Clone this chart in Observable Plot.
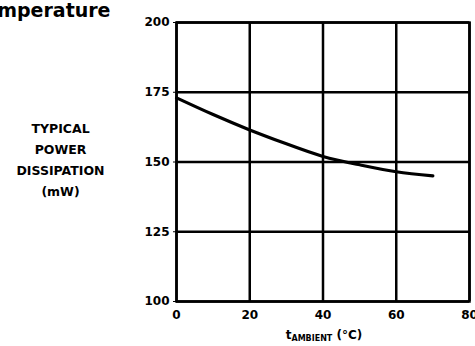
<!DOCTYPE html>
<html>
<head>
<meta charset="utf-8">
<script src="https://cdn.jsdelivr.net/npm/d3@7"></script>
<script src="https://cdn.jsdelivr.net/npm/@observablehq/plot@0.6"></script>
<style>
body { margin: 0; background: #fff; }
svg { display: block; }
</style>
</head>
<body>
<div id="chart"></div>
<script>
const temps = [0, 10, 20, 30, 40, 50, 60, 70];
const power = [173, 167, 161.5, 156.5, 152, 149, 146.5, 145];
const xTicks = [0, 20, 40, 60, 80];
const yTicks = [100, 125, 150, 175, 200];
const titleText = "Temperature";
const yLabelLines = ["TYPICAL", "POWER", "DISSIPATION", "(mW)"];

const data = temps.map((t, i) => ({t, p: power[i]}));
const font = "'DejaVu Sans', 'Liberation Sans', Arial, sans-serif";

const chart = Plot.plot({
  width: 475,
  height: 346,
  marginLeft: 176,
  marginRight: 6,
  marginTop: 22,
  marginBottom: 45,
  style: {fontFamily: font, fontWeight: "bold", fontSize: "12px", color: "#000", background: "#fff"},
  x: {domain: [0, 80], ticks: xTicks},
  y: {domain: [100, 200], ticks: yTicks},
  marks: [
    Plot.gridX(xTicks, {stroke: "#000", strokeOpacity: 1, strokeWidth: 2.5}),
    Plot.gridY(yTicks, {stroke: "#000", strokeOpacity: 1, strokeWidth: 2.5}),
    Plot.frame({stroke: "#000", strokeWidth: 2.5}),
    Plot.axisX({ticks: xTicks, tickSize: 0, tickPadding: 9, label: null, fontSize: 12, fontWeight: "bold"}),
    Plot.axisY({ticks: yTicks, tickSize: 3, tickPadding: 4, label: null, fontSize: 12, fontWeight: "bold"}),
    Plot.line(data, {x: "t", y: "p", curve: "natural", stroke: "#000", strokeWidth: 3.2}),
    Plot.text([titleText], {frameAnchor: "top-left", dx: -66, dy: -12, textAnchor: "end", fontSize: 19, fontWeight: "bold", fill: "#000", lineAnchor: "middle"}),
    Plot.text([yLabelLines.join("\n")], {frameAnchor: "top-left", dx: -116, dy: 96, textAnchor: "middle", lineAnchor: "top", fontSize: 12.5, fontWeight: "bold", fill: "#000", lineHeight: 1.68})
  ]
});

// x-axis title with subscript, rendered as SVG text
const svgNS = "http://www.w3.org/2000/svg";
const xt = document.createElementNS(svgNS, "text");
xt.setAttribute("x", 324);
xt.setAttribute("y", 339);
xt.setAttribute("text-anchor", "middle");
xt.setAttribute("font-family", font);
xt.setAttribute("font-weight", "bold");
xt.setAttribute("font-size", "12");
const t1 = document.createElementNS(svgNS, "tspan");
t1.textContent = "t";
const t2 = document.createElementNS(svgNS, "tspan");
t2.setAttribute("font-size", "8");
t2.setAttribute("dy", "2");
t2.textContent = "AMBIENT";
const t3 = document.createElementNS(svgNS, "tspan");
t3.setAttribute("dy", "-2");
t3.textContent = " (°C)";
xt.append(t1, t2, t3);
chart.appendChild(xt);

document.getElementById("chart").appendChild(chart);
</script>
</body>
</html>
